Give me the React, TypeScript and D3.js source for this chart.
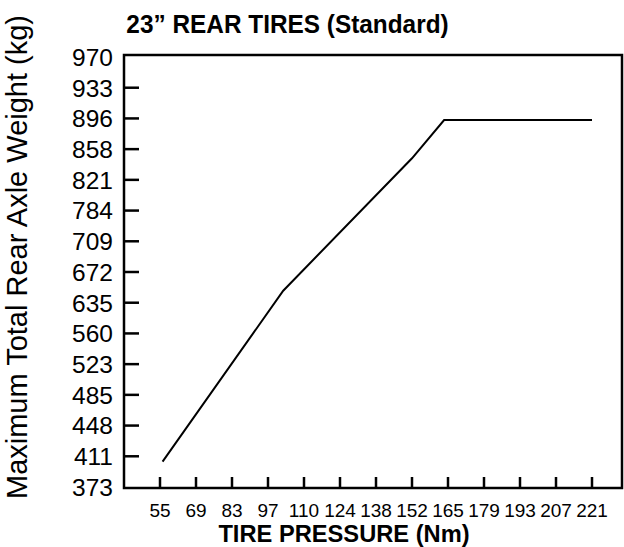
import React from "react";
import * as d3 from "d3";

const width = 624;
const height = 547;

// axis labels (evenly spaced on the chart)
const yTicks = [373, 411, 448, 485, 523, 560, 635, 672, 709, 784, 821, 858, 896, 933, 970];
const xTicks = [55, 69, 83, 97, 110, 124, 138, 152, 165, 179, 193, 207, 221];

// curve
const pressure = [56, 102.5, 152, 163.6, 221];
const weight = [404.3, 649.5, 847, 894, 894];

const frame = { left: 124, right: 622, top: 55, bottom: 488 };
const font = "Arial, 'Liberation Sans', sans-serif";

const App = () => {
    // polylinear scales so each tick label sits at its even slot
    const y = d3
        .scaleLinear()
        .domain(yTicks)
        .range(yTicks.map((_, i) => 487 - (i * (487 - 57)) / (yTicks.length - 1)));

    const x = d3
        .scaleLinear()
        .domain(xTicks)
        .range(xTicks.map((_, i) => 160 + (i * (592 - 160)) / (xTicks.length - 1)));

    const line = d3
        .line<number>()
        .x((d, i) => x(pressure[i]))
        .y(d => y(d));

    return (
        <svg
            width={width}
            height={height}
            style={{ position: "absolute", left: 0, top: 0, background: "white" }}
            fontFamily={font}
        >
            <text
                transform="translate(287.5 33) scale(0.92 1)"
                textAnchor="middle"
                fontSize="26.5"
                fontWeight="bold"
            >
                23” REAR TIRES (Standard)
            </text>

            <rect
                x={frame.left}
                y={frame.top}
                width={frame.right - frame.left}
                height={frame.bottom - frame.top}
                fill="none"
                stroke="black"
                strokeWidth="2.5"
            />

            {yTicks.map((t, i) => (
                <g key={t}>
                    {i > 0 && i < yTicks.length - 1 && (
                        <line x1={frame.left} x2={frame.left + 15} y1={y(t)} y2={y(t)} stroke="black" strokeWidth="2.5" />
                    )}
                    <text x={113} y={y(t)} dy="0.36em" textAnchor="end" fontSize="24.5">
                        {t}
                    </text>
                </g>
            ))}

            {xTicks.map(t => (
                <g key={t}>
                    <line x1={x(t)} x2={x(t)} y1={frame.bottom - 11} y2={frame.bottom} stroke="black" strokeWidth="2.5" />
                    <text x={x(t)} y={517} textAnchor="middle" fontSize="19">
                        {t}
                    </text>
                </g>
            ))}

            <path d={line(weight) || ""} fill="none" stroke="black" strokeWidth="2" />

            <text
                transform="translate(344 542) scale(1.03 1)"
                textAnchor="middle"
                fontSize="23"
                fontWeight="bold"
            >
                TIRE PRESSURE (Nm)
            </text>

            <text
                transform={`translate(26.5 257) rotate(-90)`}
                textAnchor="middle"
                fontSize="29"
            >
                Maximum Total Rear Axle Weight (kg)
            </text>
        </svg>
    );
};

export default App;
